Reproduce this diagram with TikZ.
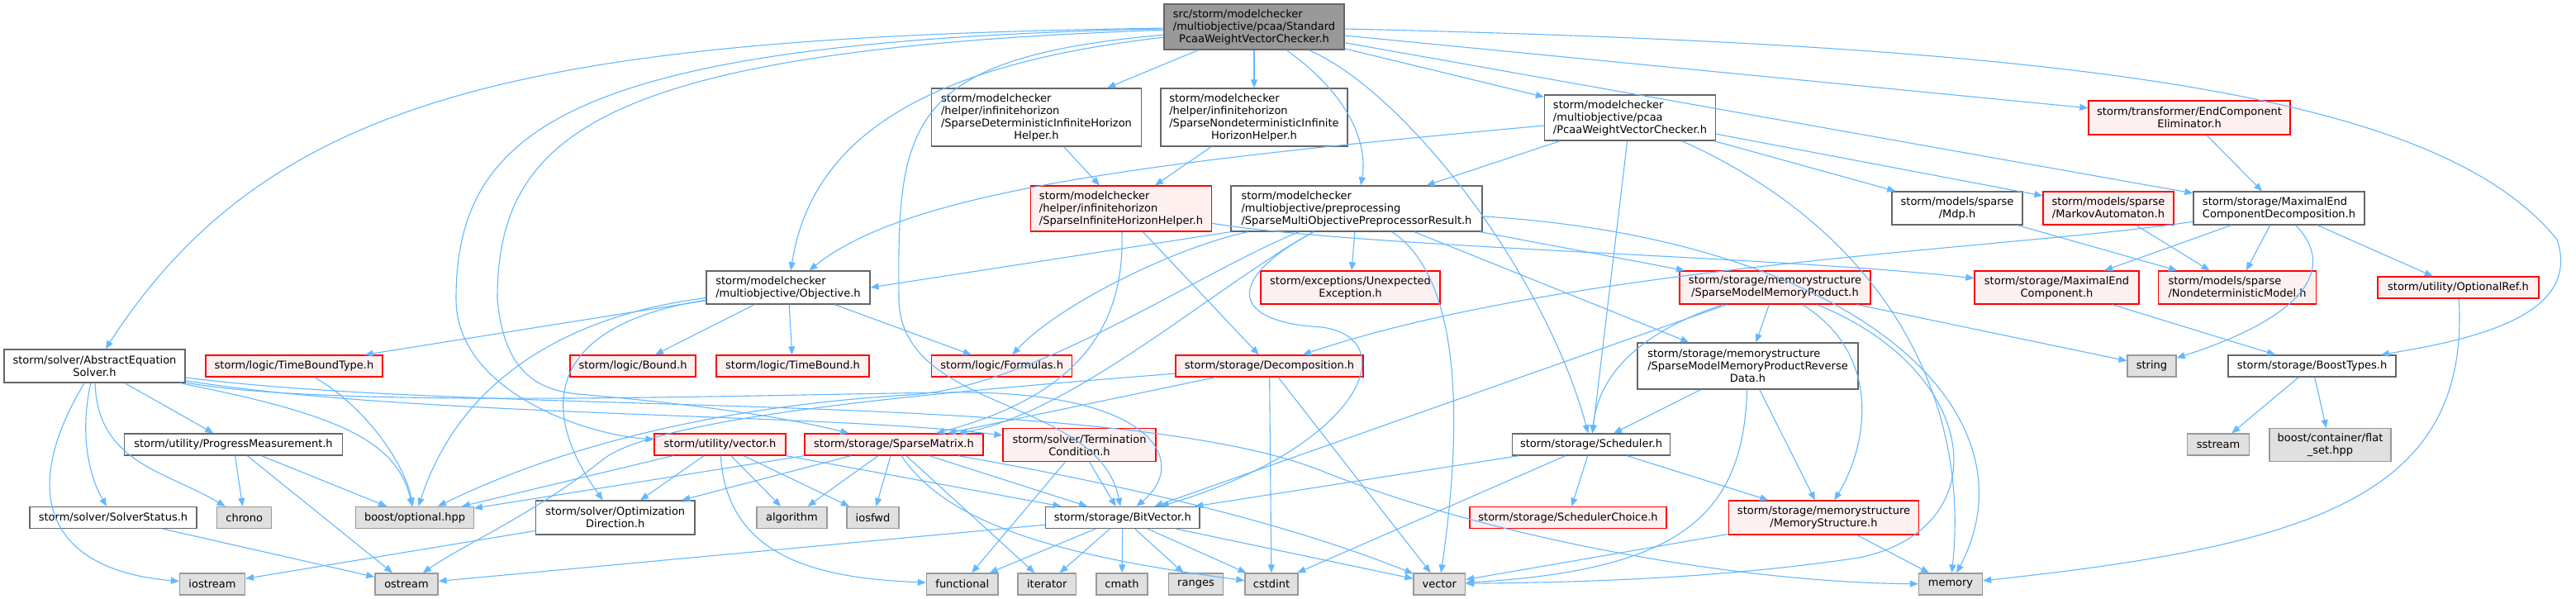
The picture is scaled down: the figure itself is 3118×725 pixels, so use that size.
\documentclass[tikz,border=0pt]{standalone}
\usepackage{fontspec}
\setmainfont{DejaVu Sans}
\usetikzlibrary{arrows.meta}
\definecolor{link}{HTML}{63B8FF}
\definecolor{frame}{HTML}{666666}
\definecolor{alert}{HTML}{FF0000}
\definecolor{blush}{HTML}{FFF0F0}
\definecolor{stone}{HTML}{E0E0E0}
\definecolor{ash}{HTML}{999999}
\newcommand{\lastc}[1]{\hfill#1\hfill\null}

\begin{document}
\begin{tikzpicture}[x=1pt,y=-1pt,
  incbox/.style={draw,line width=1.3pt,inner sep=1pt,align=left,font=\fontsize{13}{15}\selectfont},
  filebox/.style={incbox,draw=frame,fill=white},
  redbox/.style={incbox,draw=alert,fill=blush},
  sysbox/.style={incbox,draw=ash,fill=stone},
  rootbox/.style={incbox,draw=frame,fill=ash},
  wh/.style 2 args={minimum width=#1pt,minimum height=#2pt},
  inc/.style={draw=link,line width=1.1pt,-{Triangle[length=10pt,width=8pt]}}]
\fill[white] (0,0) rectangle (3118,725);
\useasboundingbox (0,0) rectangle (3118,725);

% top rows
\node[rootbox,wh={218}{55}] (root) at (1518,32.5) {src/storm/modelchecker\\/multiobjective/pcaa/Standard\\\lastc{PcaaWeightVectorChecker.h}};
\node[filebox,wh={254}{70}] (sdih) at (1254.5,142) {storm/modelchecker\\/helper/infinitehorizon\\/SparseDeterministicInfiniteHorizon\\\lastc{Helper.h}};
\node[filebox,wh={226}{70}] (snih) at (1518,142) {storm/modelchecker\\/helper/infinitehorizon\\/SparseNondeterministicInfinite\\\lastc{HorizonHelper.h}};
\node[filebox,wh={207}{55}] (pwvc) at (1973,142.5) {storm/modelchecker\\/multiobjective/pcaa\\\lastc{/PcaaWeightVectorChecker.h}};
\node[redbox,wh={244}{41}] (ece) at (2650,142.5) {storm/transformer/EndComponent\\\lastc{Eliminator.h}};
\node[redbox,wh={219}{55}] (sihh) at (1357,252.5) {storm/modelchecker\\/helper/infinitehorizon\\\lastc{/SparseInfiniteHorizonHelper.h}};
\node[filebox,wh={304}{55}] (smopr) at (1642,252.5) {storm/modelchecker\\/multiobjective/preprocessing\\\lastc{/SparseMultiObjectivePreprocessorResult.h}};
\node[filebox,wh={158}{40}] (mdp) at (2369,252) {storm/models/sparse\\\lastc{/Mdp.h}};
\node[redbox,wh={158}{40}] (ma) at (2552,252) {storm/models/sparse\\\lastc{/MarkovAutomaton.h}};
\node[filebox,wh={207}{40}] (mecd) at (2758.5,252) {storm/storage/MaximalEnd\\\lastc{ComponentDecomposition.h}};
\node[filebox,wh={198}{40}] (obj) at (954,348) {storm/modelchecker\\\lastc{/multiobjective/Objective.h}};
\node[redbox,wh={217}{40}] (unex) at (1634.5,348) {storm/exceptions/Unexpected\\\lastc{Exception.h}};
\node[redbox,wh={231}{40}] (smmp) at (2148.5,348) {storm/storage/memorystructure\\\lastc{/SparseModelMemoryProduct.h}};
\node[redbox,wh={199}{40}] (mec) at (2489.5,348) {storm/storage/MaximalEnd\\\lastc{Component.h}};
\node[redbox,wh={191}{40}] (ndm) at (2708,348) {storm/models/sparse\\\lastc{/NondeterministicModel.h}};
\node[redbox,wh={195}{26}] (optref) at (2975.5,348) {storm/utility/OptionalRef.h};

% middle rows
\node[filebox,wh={219}{40}] (aes) at (114.5,443) {storm/solver/AbstractEquation\\\lastc{Solver.h}};
\node[redbox,wh={214}{26}] (tbt) at (356,443) {storm/logic/TimeBoundType.h};
\node[redbox,wh={152}{26}] (bound) at (766,443) {storm/logic/Bound.h};
\node[redbox,wh={185}{26}] (tb) at (959.5,443) {storm/logic/TimeBound.h};
\node[redbox,wh={170}{26}] (formulas) at (1212.75,443) {storm/logic/Formulas.h};
\node[redbox,wh={227}{26}] (decomp) at (1536.5,443) {storm/storage/Decomposition.h};
\node[filebox,wh={267}{56}] (smmprd) at (2115.5,443) {storm/storage/memorystructure\\/SparseModelMemoryProductReverse\\\lastc{Data.h}};
\node[sysbox,wh={59}{26}] (string) at (2604.5,443) {string};
\node[filebox,wh={203}{26}] (boosttypes) at (2798.5,443) {storm/storage/BoostTypes.h};
\node[filebox,wh={264}{26}] (progress) at (282.5,538) {storm/utility/ProgressMeasurement.h};
\node[redbox,wh={159}{26}] (uvector) at (871.5,538) {storm/utility/vector.h};
\node[redbox,wh={216}{26}] (smatrix) at (1082,538) {storm/storage/SparseMatrix.h};
\node[redbox,wh={185}{40}] (termcond) at (1306.5,538.7) {storm/solver/Termination\\\lastc{Condition.h}};
\node[filebox,wh={191.5}{26}] (sched) at (1926,538) {storm/storage/Scheduler.h};
\node[sysbox,wh={74.5}{26}] (sstream) at (2685,538) {sstream};
\node[sysbox,wh={147}{40}] (flatset) at (2820.5,538.7) {boost/container/flat\\\lastc{\_set.hpp}};

% lower rows
\node[filebox,wh={202}{26}] (solvstat) at (137,626.5) {storm/solver/SolverStatus.h};
\node[sysbox,wh={66}{26}] (chrono) at (295.75,626.5) {chrono};
\node[sysbox,wh={142.5}{26}] (optional) at (502,626.5) {boost/optional.hpp};
\node[filebox,wh={192.5}{41}] (optdir) at (744.75,626.5) {storm/solver/Optimization\\\lastc{Direction.h}};
\node[sysbox,wh={85}{26}] (algorithm) at (958.5,626.5) {algorithm};
\node[sysbox,wh={63}{26}] (iosfwd) at (1056.5,626.5) {iosfwd};
\node[filebox,wh={186.5}{26}] (bitvec) at (1358.75,626.5) {storm/storage/BitVector.h};
\node[redbox,wh={238}{26}] (schedchoice) at (1898,626.5) {storm/storage/SchedulerChoice.h};
\node[redbox,wh={230}{41}] (memstruct) at (2207.5,626.5) {storm/storage/memorystructure\\\lastc{/MemoryStructure.h}};
\node[sysbox,wh={79}{26}] (iostream) at (257,707) {iostream};
\node[sysbox,wh={76}{26}] (ostream) at (492,707) {ostream};
\node[sysbox,wh={86.5}{26}] (functional) at (1164.75,707) {functional};
\node[sysbox,wh={70.5}{26}] (iterator) at (1267.25,707) {iterator};
\node[sysbox,wh={62}{26}] (cmath) at (1358,707) {cmath};
\node[sysbox,wh={66}{26}] (ranges) at (1447.5,707) {ranges};
\node[sysbox,wh={64}{26}] (cstdint) at (1539,707) {cstdint};
\node[sysbox,wh={62.5}{26}] (vector) at (1742.25,707) {vector};
\node[sysbox,wh={77}{26}] (memory) at (2361,707) {memory};

% edges from the root
\draw[inc] (root) -- (sdih);
\draw[inc] (root) -- (snih);
\draw[inc] (root) .. controls (1640,120) and (1655,180) .. (smopr);
\draw[inc] (root) -- (pwvc);
\draw[inc] (root) -- (ece);
\draw[inc] (root) -- (mecd);
\draw[inc] (root) .. controls (2500,55) and (2950,110) .. (3095,290) .. controls (3125,380) and (3000,410) .. (boosttypes);
\draw[inc] (root) .. controls (650,45) and (330,110) .. (aes);
\draw[inc] (root) .. controls (700,50) and (552,150) .. (552,362) .. controls (552,470) and (700,525) .. (uvector);
\draw[inc] (root) .. controls (730,60) and (602,160) .. (602,362) .. controls (610,450) and (650,472) .. (700,477) .. controls (850,490) and (950,505) .. (smatrix);
\draw[inc] (root) .. controls (1150,75) and (985,150) .. (obj);
\draw[inc] (root) .. controls (1095,70) and (1086,150) .. (1088,362) .. controls (1090,500) and (1330,480) .. (bitvec);
\draw[inc] (root) .. controls (1700,110) and (1870,330) .. (sched);

% second level
\draw[inc] (pwvc) .. controls (1400,195) and (1100,230) .. (obj);
\draw[inc] (pwvc) -- (smopr);
\draw[inc] (pwvc) -- (sched);
\draw[inc] (pwvc) -- (mdp);
\draw[inc] (pwvc) -- (ma);
\draw[inc] (pwvc) .. controls (2280,280) and (2385,480) .. (memory);
\draw[inc] (sdih) -- (sihh);
\draw[inc] (snih) -- (sihh);
\draw[inc] (ece) -- (mecd);
\draw[inc] (sihh) .. controls (1362,400) and (1300,480) .. (smatrix);
\draw[inc] (sihh) -- (decomp);
\draw[inc] (sihh) .. controls (1650,300) and (2150,310) .. (mec);

% preprocessor result
\draw[inc] (smopr.south west) -- (obj.east);
\draw[inc] (smopr) -- (unex);
\draw[inc] (smopr) -- (smmp);
\draw[inc] (smopr) -- (smmprd);
\draw[inc] (smopr) .. controls (1420,300) and (1280,370) .. (formulas);
\draw[inc] (smopr) .. controls (1480,340) and (1300,500) .. (smatrix);
\draw[inc] (smopr) .. controls (1480,340) and (1490,390) .. (1600,396) .. controls (1700,410) and (1650,540) .. (bitvec);
\draw[inc] (smopr) .. controls (1450,330) and (1250,470) .. (1100,478) .. controls (900,490) and (700,530) .. (optional);
\draw[inc] (smopr) .. controls (1760,330) and (1775,480) .. (vector);
\draw[inc] (smopr) .. controls (2250,290) and (2470,500) .. (memory);

% models and end components
\draw[inc] (mdp) -- (ndm);
\draw[inc] (ma) -- (ndm);
\draw[inc] (mecd) .. controls (2450,300) and (1900,320) .. (decomp);
\draw[inc] (mecd) -- (mec);
\draw[inc] (mecd) -- (ndm);
\draw[inc] (mecd) -- (optref);
\draw[inc] (mecd) .. controls (2825,320) and (2800,380) .. (string);
\draw[inc] (mec) -- (boosttypes);
\draw[inc] (optref) .. controls (2990,600) and (2800,660) .. (memory);
\draw[inc] (boosttypes) -- (sstream);
\draw[inc] (boosttypes) -- (flatset);

% solver
\draw[inc] (aes) .. controls (20,600) and (60,690) .. (iostream);
\draw[inc] (aes) .. controls (95,530) and (110,580) .. (solvstat);
\draw[inc] (aes) .. controls (118,560) and (200,570) .. (chrono);
\draw[inc] (aes) -- (progress);
\draw[inc] (aes) .. controls (400,500) and (480,530) .. (optional);
\draw[inc] (aes) .. controls (400,495) and (900,478) .. (1150,475) .. controls (1400,472) and (1440,560) .. (bitvec);
\draw[inc] (aes) .. controls (600,505) and (1350,470) .. (1600,570) .. controls (1800,650) and (2100,705) .. (memory);
\draw[inc] (aes) .. controls (500,505) and (1000,500) .. (termcond);

% objective
\draw[inc] (obj) -- (tbt);
\draw[inc] (obj) -- (bound);
\draw[inc] (obj) -- (tb);
\draw[inc] (obj) -- (formulas);
\draw[inc] (obj) .. controls (700,380) and (560,450) .. (optional);
\draw[inc] (obj) .. controls (680,390) and (640,480) .. (optdir);

% memory product
\draw[inc] (smmp) -- (smmprd);
\draw[inc] (smmp) .. controls (1990,400) and (1935,450) .. (sched);
\draw[inc] (smmp) -- (bitvec);
\draw[inc] (smmp) .. controls (2280,430) and (2260,540) .. (memstruct);
\draw[inc] (smmp) .. controls (2400,450) and (2420,640) .. (2250,675) .. controls (2050,705) and (1850,705) .. (vector);
\draw[inc] (smmp) -- (string);
\draw[inc] (smmprd) -- (sched);
\draw[inc] (smmprd) -- (memstruct);
\draw[inc] (smmprd) .. controls (2110,620) and (2040,690) .. (vector);

% storage and utility
\draw[inc] (tbt) .. controls (440,490) and (490,560) .. (optional);
\draw[inc] (decomp) -- (cstdint);
\draw[inc] (decomp) -- (vector);
\draw[inc] (decomp) -- (smatrix);
\draw[inc] (decomp) .. controls (1200,470) and (800,500) .. (730,556) .. controls (650,620) and (560,660) .. (ostream);
\draw[inc] (progress) -- (chrono);
\draw[inc] (progress) -- (optional);
\draw[inc] (progress) -- (ostream);
\draw[inc] (uvector) -- (optional);
\draw[inc] (uvector) -- (optdir);
\draw[inc] (uvector) -- (algorithm);
\draw[inc] (uvector) -- (iosfwd);
\draw[inc] (uvector) .. controls (880,680) and (1000,700) .. (functional);
\draw[inc] (uvector.south east) -- (bitvec);
\draw[inc] (smatrix.south west) -- (optional);
\draw[inc] (smatrix) -- (optdir);
\draw[inc] (smatrix) -- (algorithm);
\draw[inc] (smatrix) -- (iosfwd);
\draw[inc] (smatrix) -- (iterator);
\draw[inc] (smatrix) -- (bitvec);
\draw[inc] (smatrix) .. controls (1150,640) and (1300,675) .. (cstdint);
\draw[inc] (smatrix) .. controls (1350,585) and (1550,630) .. (vector);
\draw[inc] (termcond) -- (functional);
\draw[inc] (termcond) -- (bitvec);
\draw[inc] (sched) -- (bitvec);
\draw[inc] (sched) -- (cstdint);
\draw[inc] (sched) -- (schedchoice);
\draw[inc] (sched) -- (memstruct);
\draw[inc] (solvstat) -- (ostream);
\draw[inc] (optdir) -- (iostream);
\draw[inc] (bitvec) -- (functional);
\draw[inc] (bitvec) -- (iterator);
\draw[inc] (bitvec) -- (cmath);
\draw[inc] (bitvec) -- (ranges);
\draw[inc] (bitvec) -- (cstdint);
\draw[inc] (bitvec) -- (vector);
\draw[inc] (bitvec) -- (ostream);
\draw[inc] (memstruct) -- (vector);
\draw[inc] (memstruct) -- (memory);
\end{tikzpicture}
\end{document}
